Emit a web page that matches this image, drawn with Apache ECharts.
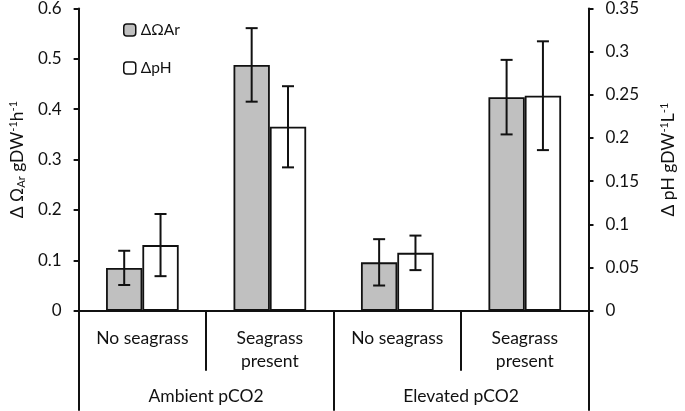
<!DOCTYPE html>
<html>
<head>
<meta charset="utf-8">
<script src="https://cdn.jsdelivr.net/npm/echarts@6/dist/echarts.min.js"></script>
<style>
html,body{margin:0;padding:0;background:#fff;}
#c{width:685px;height:411px;}
</style>
</head>
<body>
<div id="c"></div>
<script>
// ---- data ----
const categories = ['No seagrass', 'Seagrass\npresent', 'No seagrass', 'Seagrass\npresent'];
const groups = ['Ambient pCO2', 'Elevated pCO2'];
const seriesNames = ['ΔΩAr', 'ΔpH'];
const omegaAr = [0.085, 0.488, 0.096, 0.424];
const omegaArErr = [0.034, 0.073, 0.046, 0.074];
const deltaPH = [0.076, 0.213, 0.067, 0.249];
const deltaPHErr = [0.036, 0.047, 0.020, 0.063];
const leftTicks = {min: 0, max: 0.6, interval: 0.1};
const rightTicks = {min: 0, max: 0.35, interval: 0.05};

const FONT = 'Lato';
const CAT_GAP = 0.43;

function errData(vals, errs) {
  return vals.map((v, i) => [i, v - errs[i], v + errs[i]]);
}
function errRenderer(side) {
  return function (params, api) {
    const cat = api.value(0);
    const lo = api.coord([cat, api.value(1)]);
    const hi = api.coord([cat, api.value(2)]);
    const catW = api.size([1, 0])[0];
    const x = hi[0] + side * catW * (1 - CAT_GAP) / 4;
    const cap = 6;
    const st = {stroke: '#111', lineWidth: 2};
    return {
      type: 'group',
      children: [
        {type: 'line', shape: {x1: x, y1: hi[1], x2: x, y2: lo[1]}, style: st},
        {type: 'line', shape: {x1: x - cap, y1: hi[1], x2: x + cap, y2: hi[1]}, style: st},
        {type: 'line', shape: {x1: x - cap, y1: lo[1], x2: x + cap, y2: lo[1]}, style: st}
      ]
    };
  };
}

const axisLineStyle = {lineStyle: {color: '#111', width: 2}};
const chart = echarts.init(document.getElementById('c'), null, {renderer: 'canvas'});
chart.setOption({
  animation: false,
  backgroundColor: '#fff',
  textStyle: {fontFamily: FONT, color: '#111'},
  grid: {left: 71.5, right: 86, top: 7, bottom: 100.3, containLabel: false},
  legend: {
    orient: 'vertical',
    left: 118, top: 17,
    itemWidth: 12, itemHeight: 12, itemGap: 22,
    data: seriesNames,
    textStyle: {fontFamily: FONT, fontSize: 15.5, color: '#111'},
    itemStyle: {borderColor: '#111', borderWidth: 1.5}
  },
  xAxis: [
    {
      type: 'category', data: categories, position: 'bottom',
      axisLine: axisLineStyle,
      axisTick: {show: true, length: 60, interval: 0, lineStyle: {color: '#111', width: 2}},
      axisLabel: {interval: 0, margin: 16, fontFamily: FONT, fontSize: 17.5, lineHeight: 23, color: '#111'}
    },
    {
      type: 'category', data: groups, position: 'bottom', offset: 0,
      axisLine: {show: false},
      axisTick: {show: true, length: 100, interval: 0, lineStyle: {color: '#111', width: 2}},
      axisLabel: {interval: 0, margin: 77, fontFamily: FONT, fontSize: 17.5, color: '#111'}
    }
  ],
  yAxis: [
    {
      type: 'value', position: 'left',
      min: leftTicks.min, max: leftTicks.max, interval: leftTicks.interval,
      splitLine: {show: false},
      axisLine: {show: true, lineStyle: {color: '#111', width: 2}},
      axisTick: {show: true, length: 5, lineStyle: {color: '#111', width: 2}},
      axisLabel: {margin: 17, fontFamily: FONT, fontSize: 17, color: '#111'},
      name: 'Δ Ω{sub|Ar} gDW{sup|-1}h{sup|-1}',
      nameLocation: 'middle', nameRotate: 90, nameGap: 50,
      nameTextStyle: {
        fontFamily: FONT, fontSize: 17.5, color: '#111',
        rich: {
          sub: {fontFamily: FONT, fontSize: 11, color: '#111', verticalAlign: 'bottom', padding: [8, 0, 0, 0]},
          sup: {fontFamily: FONT, fontSize: 11, color: '#111', verticalAlign: 'top', padding: [0, 0, 8, 0]}
        }
      }
    },
    {
      type: 'value', position: 'right',
      min: rightTicks.min, max: rightTicks.max, interval: rightTicks.interval,
      splitLine: {show: false},
      axisLine: {show: true, lineStyle: {color: '#111', width: 2}},
      axisTick: {show: true, length: 5, lineStyle: {color: '#111', width: 2}},
      axisLabel: {margin: 17, fontFamily: FONT, fontSize: 17, color: '#111'},
      name: 'Δ pH gDW{sup|-1}L{sup|-1}',
      nameLocation: 'middle', nameRotate: 90, nameGap: 70,
      nameTextStyle: {
        fontFamily: FONT, fontSize: 17.5, color: '#111',
        rich: {
          sup: {fontFamily: FONT, fontSize: 11, color: '#111', verticalAlign: 'top', padding: [0, 0, 8, 0]}
        }
      }
    }
  ],
  series: [
    {
      name: seriesNames[0], type: 'bar', xAxisIndex: 0, yAxisIndex: 0,
      data: omegaAr, barGap: '0%', barCategoryGap: (CAT_GAP * 100) + '%',
      itemStyle: {color: '#c0c0c0', borderColor: '#111', borderWidth: 1.8}
    },
    {
      name: seriesNames[1], type: 'bar', xAxisIndex: 0, yAxisIndex: 1,
      data: deltaPH, barGap: '0%', barCategoryGap: (CAT_GAP * 100) + '%',
      itemStyle: {color: '#ffffff', borderColor: '#111', borderWidth: 1.8}
    },
    {
      type: 'custom', xAxisIndex: 0, yAxisIndex: 0, z: 10,
      renderItem: errRenderer(-1), data: errData(omegaAr, omegaArErr),
      encode: {x: 0, y: [1, 2]}
    },
    {
      type: 'custom', xAxisIndex: 0, yAxisIndex: 1, z: 10,
      renderItem: errRenderer(1), data: errData(deltaPH, deltaPHErr),
      encode: {x: 0, y: [1, 2]}
    }
  ]
});
</script>
</body>
</html>
